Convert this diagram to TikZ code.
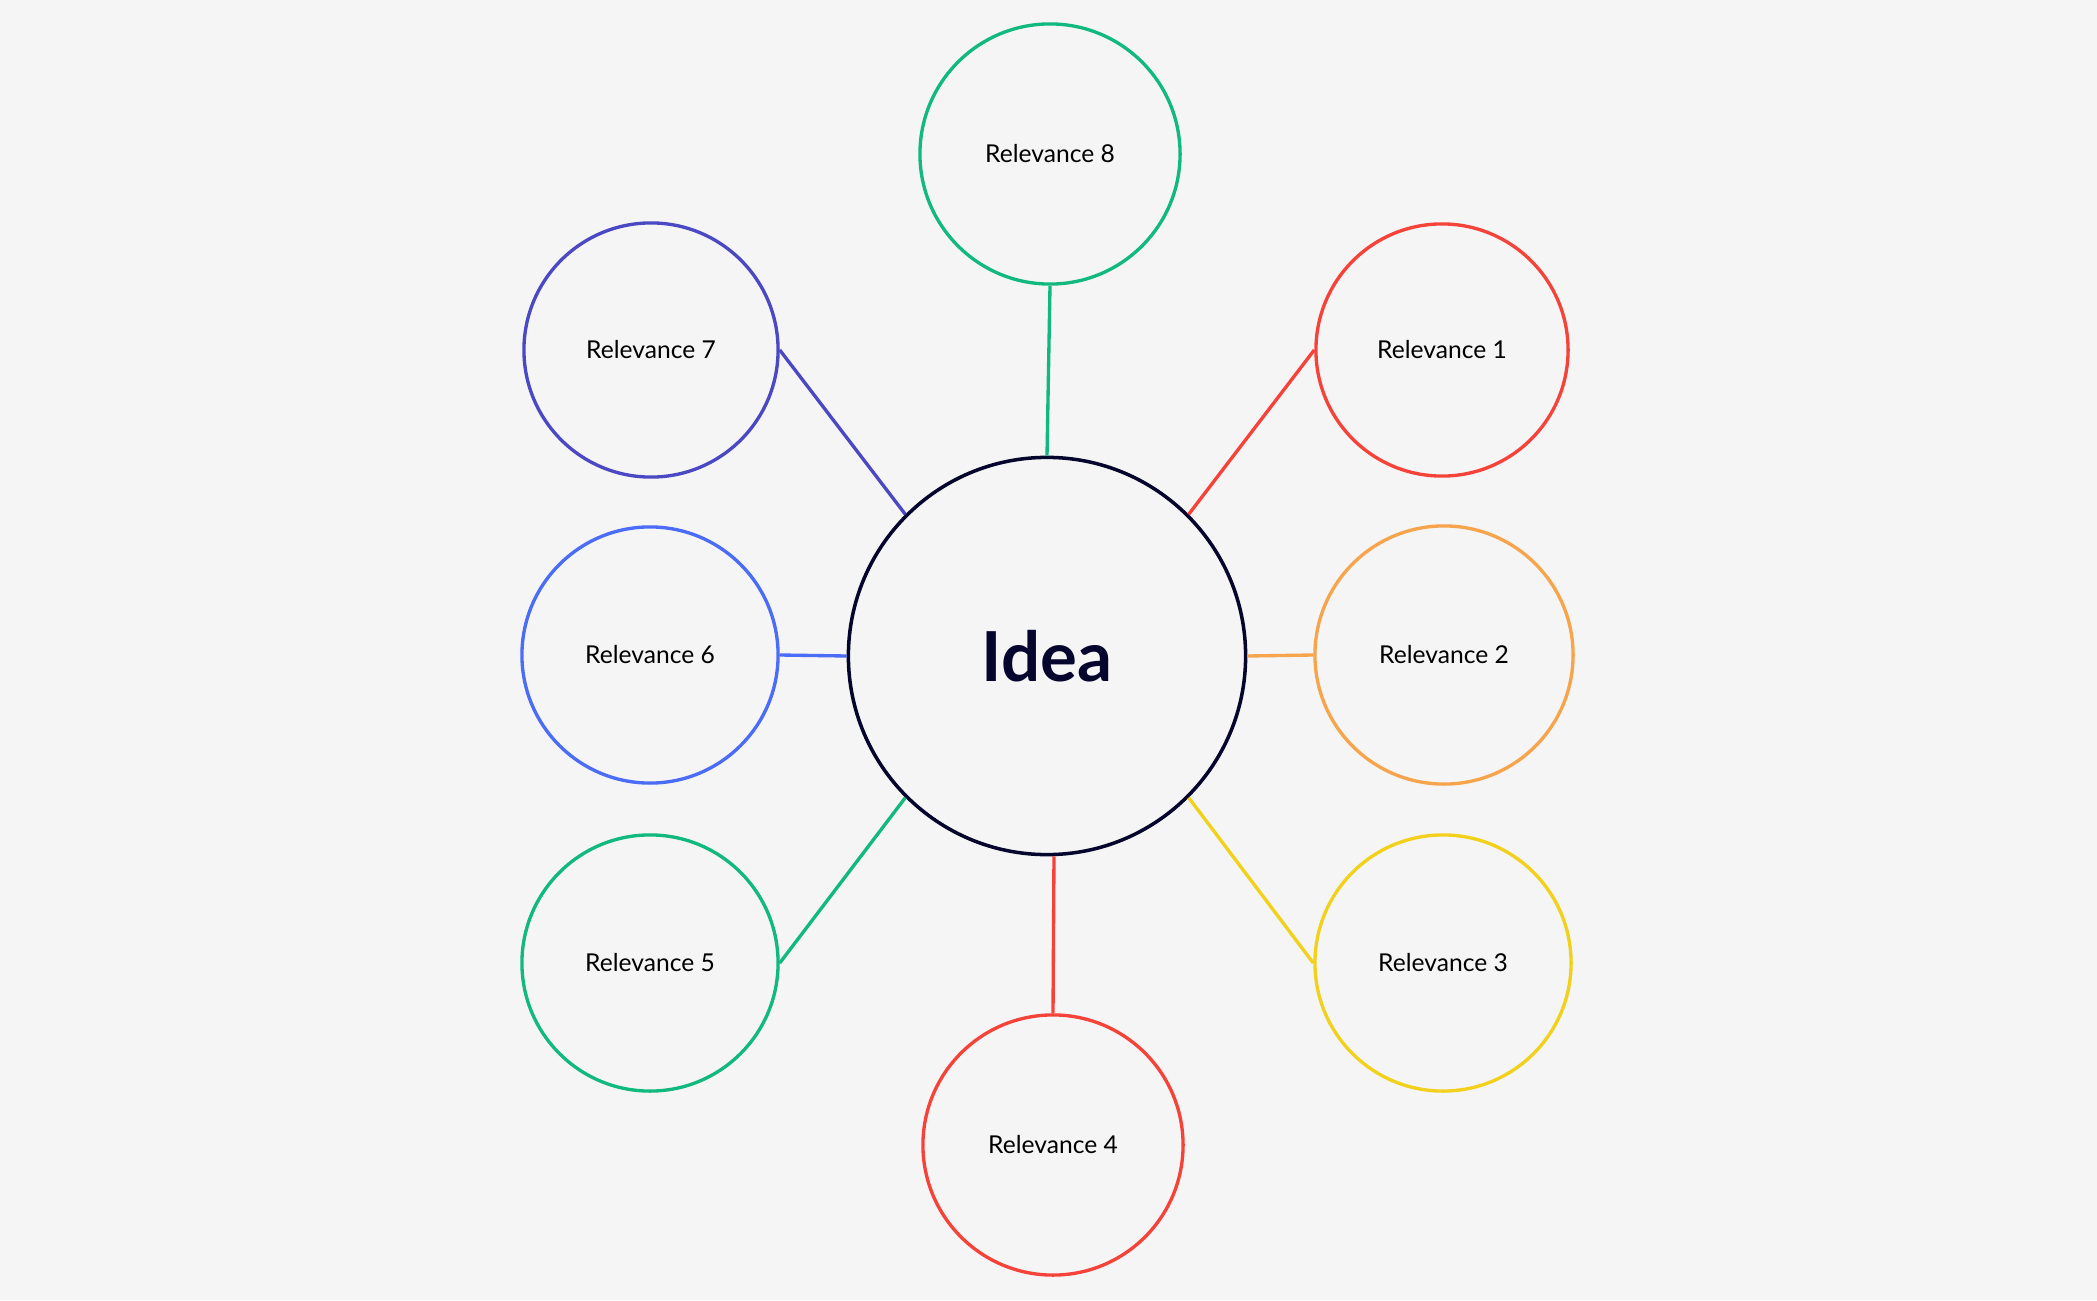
\documentclass[tikz,border=0pt]{standalone}
\usepackage{fontspec}
\setmainfont{Lato}
\definecolor{bggray}{HTML}{F5F5F5}
\definecolor{ideanavy}{HTML}{05052D}
\definecolor{relred}{HTML}{F5433A}
\definecolor{relorange}{HTML}{F6A54D}
\definecolor{relyellow}{HTML}{F2D11C}
\definecolor{relgreen}{HTML}{12B97E}
\definecolor{relblue}{HTML}{4A6CF7}
\definecolor{relindigo}{HTML}{4B48C4}

\begin{document}
\begin{tikzpicture}[x=0.01cm, y=-0.01cm,
    rel/.style={circle, draw, line width=0.95pt, inner sep=0pt,
        minimum size=2.56cm, text=black,
        font=\fontsize{7}{8.5}\selectfont},
    idea/.style={circle, draw=ideanavy, line width=1pt, inner sep=0pt,
        minimum size=3.97cm, text=ideanavy,
        font=\fontsize{19.6}{23}\selectfont\bfseries},
    link/.style={line width=0.95pt}
]
        \fill[bggray] (0, 0) rectangle (2097, 1300);
        \node[idea] (idea) at (1047, 656) {Idea};
        \node[rel, draw=relred, minimum size=2.52cm] (rel1) at (1442, 350) {Relevance 1};
        \node[rel, draw=relorange, minimum size=2.58cm] (rel2) at (1444, 655) {Relevance 2};
        \node[rel, draw=relyellow] (rel3) at (1443, 963) {Relevance 3};
        \node[rel, draw=relred, minimum size=2.6cm] (rel4) at (1053, 1145) {Relevance 4};
        \node[rel, draw=relgreen] (rel5) at (650, 963) {Relevance 5};
        \node[rel, draw=relblue] (rel6) at (650, 655) {Relevance 6};
        \node[rel, draw=relindigo, minimum size=2.54cm] (rel7) at (651, 350) {Relevance 7};
        \node[rel, draw=relgreen, minimum size=2.6cm] (rel8) at (1050, 154) {Relevance 8};
        \draw[link, relred] (rel1.west) -- (idea.45);
        \draw[link, relorange] (rel2.west) -- (idea.east);
        \draw[link, relyellow] (rel3.west) -- (idea.-45);
        \draw[link, relred] (rel4.north) -- (idea.-88);
        \draw[link, relgreen] (rel5.east) -- (idea.225);
        \draw[link, relblue] (rel6.east) -- (idea.west);
        \draw[link, relindigo] (rel7.east) -- (idea.135);
        \draw[link, relgreen] (rel8.south) -- (idea.north);
\end{tikzpicture}
\end{document}
